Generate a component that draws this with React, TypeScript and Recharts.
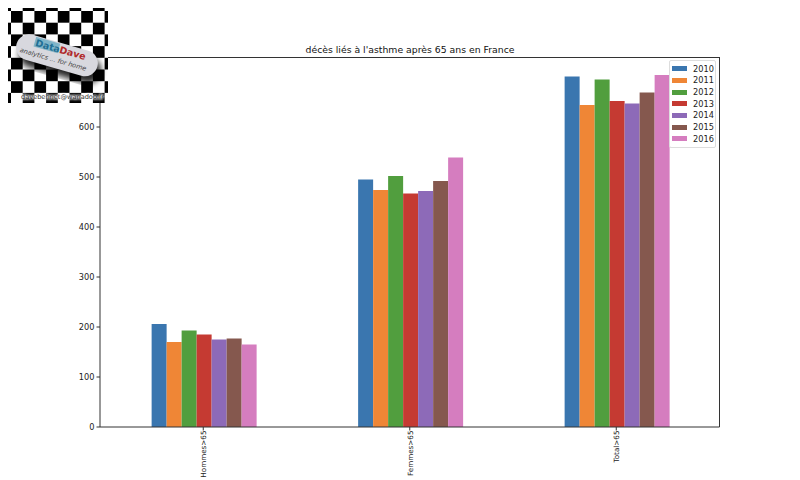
import { BarChart, Bar, XAxis, YAxis, Legend } from "recharts";

const categories = ["Hommes>65", "Femmes>65", "Total>65"];
const years = ["2010", "2011", "2012", "2013", "2014", "2015", "2016"];
const hommes = [206, 170, 193, 185, 175, 177, 165];
const femmes = [495, 474, 502, 467, 472, 492, 539];
const total = [701, 644, 695, 652, 647, 669, 704];
const yTicks = [0, 100, 200, 300, 400, 500, 600, 700];
const COLORS = ["#3a76af", "#ef8636", "#519e3e", "#c53a32", "#8d6ab8", "#85584e", "#d57dbf"];

const rows = [hommes, femmes, total];
const data = categories.map((name, i) => {
  const row: Record<string, string | number> = { name };
  years.forEach((y, j) => {
    row[y] = rows[i][j];
  });
  return row;
});

const FONT = "'DejaVu Sans', sans-serif";

function LegendBox({ payload }: any) {
  return (
    <div
      style={{
        background: "#fff",
        border: "1px solid #ddd",
        borderRadius: 2,
        padding: "2px 1px 2px 2px",
        width: 42,
        fontFamily: FONT,
        fontSize: 8.2,
        color: "#222",
      }}
    >
      {(payload || []).map((p: any) => (
        <div key={p.value} style={{ display: "flex", alignItems: "center", height: 11.67 }}>
          <span style={{ width: 15.5, height: 5, background: p.color, marginRight: 6, flex: "none" }} />
          <span>{p.value}</span>
        </div>
      ))}
    </div>
  );
}

function Logo() {
  const cells = [];
  for (let i = 0; i < 11; i++) {
    for (let j = 0; j < 10; j++) {
      if ((i + j) % 2 === 0) {
        cells.push(<rect key={i + "-" + j} x={i * 11.7 - 0.7} y={j * 11.7 - 0.7} width={11.7} height={11.7} fill="#000" />);
      }
    }
  }
  return (
    <svg width={110} height={106} style={{ position: "absolute", left: 0, top: 0 }}>
      <defs>
        <clipPath id="logoClip">
          <rect x={8} y={8} width={100} height={95} />
        </clipPath>
        <filter id="logoBlur">
          <feGaussianBlur stdDeviation={3} />
        </filter>
        <filter id="textHalo">
          <feGaussianBlur stdDeviation={0.8} />
        </filter>
      </defs>
      <g clipPath="url(#logoClip)">
        <rect x={8} y={8} width={100} height={95} fill="#fff" />
        {cells}
        <g transform="rotate(16 56 55)">
          <rect x={20} y={48} width={84} height={26} rx={13} fill="#000" opacity={0.85} filter="url(#logoBlur)" />
          <rect x={15} y={42} width={84} height={26} rx={13} fill="#d8d8de" />
          <rect x={32} y={43} width={25} height={10} fill="#7fb4c8" />
          <text x={33} y={52} fontFamily={FONT} fontSize={9.5} fontWeight="bold" fill="#1f6f94">Data</text>
          <text x={58} y={52} fontFamily={FONT} fontSize={9.5} fontWeight="bold" fill="#b02a2a">Dave</text>
          <text x={20} y={62} fontFamily={FONT} fontSize={6.5} fontStyle="italic" fill="#444">analytics ...  for home</text>
        </g>
        <text x={21} y={99} fontFamily={FONT} fontSize={6.6} fill="#fff" filter="url(#textHalo)" stroke="#fff" strokeWidth={1}>davebehnet@wanadoo.fr</text>
        <text x={21} y={99} fontFamily={FONT} fontSize={6.6} fill="#333">davebehnet@wanadoo.fr</text>
      </g>
    </svg>
  );
}

export default function App() {
  return (
    <div style={{ position: "absolute", left: 0, top: 0, width: 800, height: 480, overflow: "hidden", background: "#fff" }}>
      <BarChart
        width={800}
        height={480}
        data={data}
        barCategoryGap="25%"
        barGap={0}
        margin={{ top: 57, right: 80.5, bottom: 0, left: 60 }}
      >
        <XAxis
          dataKey="name"
          height={53}
          interval={0}
          stroke="#333"
          tickSize={3.5}
          tickMargin={0}
          angle={-90}
          textAnchor="end"
          tick={{ fontFamily: FONT, fontSize: 7.2, fill: "#222", dx: -2, dy: 0 }}
        />
        <YAxis
          domain={[0, 740]}
          ticks={yTicks}
          width={40}
          stroke="#333"
          tickSize={3.5}
          tick={{ fontFamily: FONT, fontSize: 8.2, fill: "#222" }}
        />
        <Legend
          layout="vertical"
          verticalAlign="middle"
          align="center"
          content={<LegendBox />}
          wrapperStyle={{ position: "absolute", left: 668.5, top: 60, width: 48 }}
        />
        {years.map((y, i) => (
          <Bar key={y} dataKey={y} fill={COLORS[i]} isAnimationActive={false} />
        ))}
      </BarChart>
      <div
        style={{
          position: "absolute",
          left: 100,
          top: 57,
          width: 619.5,
          height: 370,
          boxSizing: "border-box",
          borderTop: "1px solid #333",
          borderRight: "1px solid #333",
          pointerEvents: "none",
        }}
      />
      <div
        style={{
          position: "absolute",
          left: 100,
          width: 620,
          top: 44,
          textAlign: "center",
          fontFamily: FONT,
          fontSize: 9.3,
          color: "#111",
        }}
      >
        décès liés à l'asthme après 65 ans en France
      </div>
      <Logo />
    </div>
  );
}
